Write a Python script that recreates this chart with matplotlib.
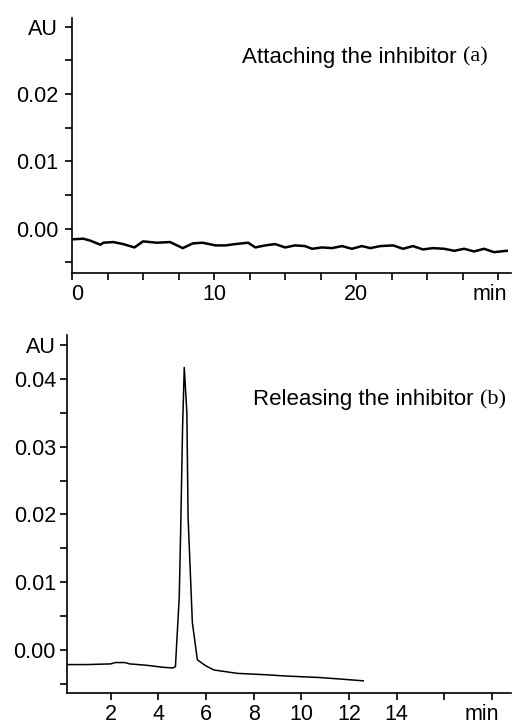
import matplotlib
matplotlib.use("Agg")
import matplotlib.pyplot as plt
import matplotlib.transforms as mtransforms
import numpy as np

# panel (a): baseline while attaching the inhibitor (min, AU)
a_time = [0.0, 0.8, 1.3, 2.0, 2.2, 2.9, 3.6, 4.4, 5.0, 5.96, 6.9, 7.8, 8.5, 9.2,
          10.1, 10.8, 11.5, 12.4, 12.9, 13.6, 14.3, 15.0, 15.7, 16.4, 16.9, 17.6,
          18.3, 19.0, 19.7, 20.4, 21.0, 21.7, 22.6, 23.3, 24.0, 24.7, 25.4, 26.2,
          26.9, 27.6, 28.3, 29.0, 29.7, 30.6]
a_au = [-0.0016, -0.0015, -0.0018, -0.0024, -0.0021, -0.0020, -0.0023, -0.0028,
        -0.0019, -0.0021, -0.0020, -0.0029, -0.0022, -0.0021, -0.0025,
        -0.0025, -0.0023, -0.0021, -0.0028, -0.0025, -0.0023, -0.0028, -0.0025,
        -0.0026, -0.0030, -0.0028, -0.0029, -0.0026, -0.0030, -0.0026,
        -0.0029, -0.0026, -0.0025, -0.0030, -0.0026, -0.0031, -0.0029, -0.0030,
        -0.0033, -0.0030, -0.0034, -0.0030, -0.0035, -0.0033]

# panel (b): releasing the inhibitor
b_time = [0.2, 1.0, 2.0, 2.2, 2.6, 2.8, 3.5, 4.2, 4.6, 4.72, 4.88, 4.94, 5.02,
          5.09, 5.2, 5.25, 5.34, 5.43, 5.64, 6.0, 6.34, 7.32, 8.5, 9.4, 10.7,
          11.5, 12.6]
b_au = [-0.0022, -0.0022, -0.0021, -0.0019, -0.0019, -0.0021, -0.0023, -0.0026,
        -0.0027, -0.0025, 0.0078, 0.0177, 0.0329, 0.0417, 0.0350, 0.0196,
        0.0118, 0.0040, -0.0015, -0.0024, -0.0030, -0.0035, -0.0037, -0.0039,
        -0.0041, -0.0043, -0.0046]

a_xticks = [0, 10, 20, 30]
a_xlabels = ["0", "10", "20", "min"]
b_xticks = [2, 4, 6, 8, 10, 12, 14, 16, 18]
b_xlabels = ["2", "4", "6", "8", "10", "12", "14", "", "min"]

SANS = "Liberation Sans"
SERIF = "Liberation Serif"
FS = 15.5
FS_NOTE = 16

plt.rcParams["font.family"] = SANS

fig = plt.figure(figsize=(5.12, 7.25), dpi=100)
ax_a = fig.add_axes([72 / 512, 1 - 273 / 725, 439 / 512, 255 / 725])
ax_b = fig.add_axes([67 / 512, 1 - 693 / 725, 444 / 512, 358 / 725])


def style(ax):
    for side in ("top", "right"):
        ax.spines[side].set_visible(False)
    for side in ("left", "bottom"):
        ax.spines[side].set_linewidth(1.2)
    ax.tick_params(which="both", direction="out", length=5, width=1.2,
                   labelsize=FS, pad=3)


def nudge(label, dx):
    # shift a tick label sideways by dx pixels
    label.set_transform(label.get_transform() +
                        mtransforms.Affine2D().translate(dx, 0))


# (a)
ax_a.plot(a_time, a_au, color="black", lw=1.8)
ax_a.set_xlim(0, 30.9)
ax_a.set_ylim(-0.0066, 0.0313)
ax_a.set_xticks(a_xticks, a_xlabels)
ax_a.set_xticks(np.arange(2.5, 30, 2.5), minor=True)
ax_a.set_yticks([0.0, 0.01, 0.02, 0.03], ["0.00", "0.01", "0.02", "AU"])
ax_a.set_yticks([-0.005, 0.005, 0.015, 0.025], minor=True)
style(ax_a)
ax_a.tick_params(axis="y", pad=5)
xl = ax_a.get_xticklabels()
nudge(xl[0], 5)
nudge(xl[-1], -8)
t = ax_a.text(242 / 512, 1 - 57 / 725, "Attaching the inhibitor ",
              transform=fig.transFigure, fontsize=FS_NOTE, va="center")
ax_a.annotate("(a)", xy=(1, 0.5), xycoords=t, va="center", fontsize=FS_NOTE,
              family=SERIF)

# (b)
ax_b.plot(b_time, b_au, color="black", lw=1.1)
ax_b.set_xlim(0.17, 18.8)
ax_b.set_ylim(-0.0064, 0.0465)
ax_b.set_xticks(b_xticks, b_xlabels)
ax_b.set_yticks([0.0, 0.01, 0.02, 0.03, 0.04, 0.045],
                ["0.00", "0.01", "0.02", "0.03", "0.04", "AU"])
ax_b.set_yticks([-0.005, 0.005, 0.015, 0.025, 0.035], minor=True)
style(ax_b)
xl = ax_b.get_xticklabels()
nudge(xl[-1], -10)
t = ax_b.text(253 / 512, 1 - 400 / 725, "Releasing the inhibitor ",
              transform=fig.transFigure, fontsize=FS_NOTE, va="center")
ax_b.annotate("(b)", xy=(1, 0.5), xycoords=t, va="center", fontsize=FS_NOTE,
              family=SERIF)

fig.savefig("out.png", dpi=100)
